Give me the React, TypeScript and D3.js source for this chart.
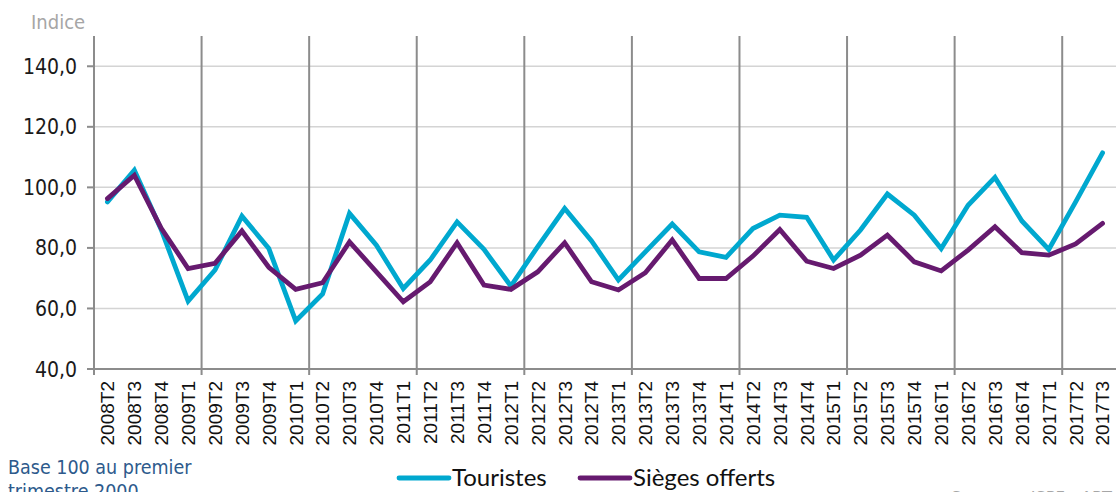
import * as d3 from 'd3';
import { useEffect, useRef } from 'react';

const quarters = [
  '2008T2', '2008T3', '2008T4',
  '2009T1', '2009T2', '2009T3', '2009T4',
  '2010T1', '2010T2', '2010T3', '2010T4',
  '2011T1', '2011T2', '2011T3', '2011T4',
  '2012T1', '2012T2', '2012T3', '2012T4',
  '2013T1', '2013T2', '2013T3', '2013T4',
  '2014T1', '2014T2', '2014T3', '2014T4',
  '2015T1', '2015T2', '2015T3', '2015T4',
  '2016T1', '2016T2', '2016T3', '2016T4',
  '2017T1', '2017T2', '2017T3',
];

const touristes = [
  95.2, 105.7, 86.0,
  62.4, 72.7, 90.5, 79.8,
  55.9, 64.8, 91.4, 80.9,
  66.6, 76.0, 88.6, 79.5,
  67.4, 80.4, 93.0, 82.3,
  69.4, 78.7, 87.9, 78.7,
  76.9, 86.4, 90.8, 90.1,
  76.0, 85.9, 97.8, 90.8,
  79.8, 94.1, 103.3, 88.9,
  79.5, 95.2, 111.4,
];

const sieges = [
  96.3, 104.0, 86.5,
  73.2, 74.9, 85.6, 73.6,
  66.3, 68.5, 82.0, 72.1,
  62.2, 68.8, 81.7, 67.7,
  66.3, 72.1, 81.7, 68.8,
  66.1, 71.8, 82.6, 69.9,
  69.9, 77.3, 86.1, 75.6,
  73.2, 77.6, 84.2, 75.4,
  72.4, 79.3, 87.0, 78.4,
  77.6, 81.3, 88.1,
];

const yTicks = [40, 60, 80, 100, 120, 140];

const seriesList = [
  { name: 'Touristes', values: touristes, color: '#00a8cf' },
  { name: 'Sièges offerts', values: sieges, color: '#661a6f' },
];

const W = 1117;
const H = 492;

export default function App() {
  const ref = useRef<SVGSVGElement | null>(null);

  useEffect(() => {
    const svg = d3.select(ref.current);
    svg.selectAll('*').remove();

    const left = 94;
    const right = 1116;
    const top = 36;
    const bottom = 369;

    const x = d3.scaleBand().domain(quarters).range([left, right]).padding(0);
    const y = d3.scaleLinear().domain([40, 150]).range([bottom, top]);
    const cx = (i: number) => (x(quarters[i]) as number) + x.bandwidth() / 2;

    // horizontal grid
    svg
      .append('g')
      .selectAll('line')
      .data(yTicks.filter((t) => t > 40))
      .join('line')
      .attr('x1', left)
      .attr('x2', right)
      .attr('y1', (d) => y(d))
      .attr('y2', (d) => y(d))
      .attr('stroke', '#d4d4d4')
      .attr('stroke-width', 1.5);

    // vertical separators every 4 quarters
    const seps = d3.range(4, quarters.length, 4).map((i) => x(quarters[i]) as number);
    svg
      .append('g')
      .selectAll('line')
      .data(seps)
      .join('line')
      .attr('x1', (d) => d)
      .attr('x2', (d) => d)
      .attr('y1', top)
      .attr('y2', bottom + 6)
      .attr('stroke', '#8c8c8c')
      .attr('stroke-width', 2);

    // axes
    svg
      .append('line')
      .attr('x1', left)
      .attr('x2', right)
      .attr('y1', bottom)
      .attr('y2', bottom)
      .attr('stroke', '#8c8c8c')
      .attr('stroke-width', 2);
    svg
      .append('line')
      .attr('x1', left)
      .attr('x2', left)
      .attr('y1', top)
      .attr('y2', bottom + 6)
      .attr('stroke', '#8c8c8c')
      .attr('stroke-width', 2);

    const fmt = (v: number) => d3.format('.1f')(v).replace('.', ',');
    const yg = svg.append('g');
    yg.selectAll('line')
      .data(yTicks)
      .join('line')
      .attr('x1', left - 7)
      .attr('x2', left)
      .attr('y1', (d) => y(d))
      .attr('y2', (d) => y(d))
      .attr('stroke', '#8c8c8c')
      .attr('stroke-width', 2);
    yg.selectAll('text')
      .data(yTicks)
      .join('text')
      .attr('x', 77)
      .attr('y', (d) => y(d))
      .attr('dy', '0.36em')
      .attr('text-anchor', 'end')
      .attr('font-family', '"DejaVu Sans Condensed", "DejaVu Sans", sans-serif')
      .attr('font-size', 21)
      .attr('fill', '#1a1a1a')
      .text(fmt);

    // x labels
    svg
      .append('g')
      .selectAll('text')
      .data(quarters)
      .join('text')
      .attr('transform', (d) => `translate(${(x(d) as number) + x.bandwidth() / 2},${bottom + 12}) rotate(-90)`)
      .attr('dy', '0.36em')
      .attr('text-anchor', 'end')
      .attr('font-family', '"Liberation Sans", Arial, sans-serif')
      .attr('font-size', 19)
      .attr('fill', '#111')
      .text((d) => d);

    // lines
    const line = d3
      .line<number>()
      .x((_, i) => cx(i))
      .y((d) => y(d))
      .curve(d3.curveLinear);
    svg
      .append('g')
      .selectAll('path')
      .data(seriesList)
      .join('path')
      .attr('d', (s) => line(s.values))
      .attr('fill', 'none')
      .attr('stroke', (s) => s.color)
      .attr('stroke-width', 4.8)
      .attr('stroke-linejoin', 'miter')
      .attr('stroke-linecap', 'round');

    // axis title
    svg
      .append('text')
      .attr('x', 31)
      .attr('y', 29)
      .attr('font-family', '"DejaVu Sans Condensed", "DejaVu Sans", sans-serif')
      .attr('font-size', 20)
      .attr('fill', '#a6a6a6')
      .text('Indice');

    // legend
    const legendPos = [397, 578];
    const lg = svg
      .append('g')
      .selectAll('g')
      .data(seriesList)
      .join('g')
      .attr('transform', (_, i) => `translate(${legendPos[i]},478)`);
    lg.append('line')
      .attr('x1', 2)
      .attr('x2', 52)
      .attr('stroke', (s) => s.color)
      .attr('stroke-width', 4.8)
      .attr('stroke-linecap', 'round');
    lg.append('text')
      .attr('x', 55)
      .attr('dy', '0.35em')
      .attr('font-family', 'Lato, "Open Sans", sans-serif')
      .attr('font-size', 24)
      .attr('fill', '#111')
      .text((s) => s.name);

    // notes
    const note = svg
      .append('text')
      .attr('font-family', '"DejaVu Sans Condensed", "DejaVu Sans", sans-serif')
      .attr('font-size', 19.5)
      .attr('fill', '#2d5a8c');
    note.append('tspan').attr('x', 8).attr('y', 474).text('Base 100 au premier');
    note.append('tspan').attr('x', 8).attr('y', 498).text('trimestre 2000');

    svg
      .append('text')
      .attr('x', 951)
      .attr('y', 504)
      .attr('font-family', '"DejaVu Sans Condensed", "DejaVu Sans", sans-serif')
      .attr('font-size', 18)
      .attr('fill', '#a6a6a6')
      .text('Sources : ISPF - ART');
  }, []);

  return (
    <svg
      ref={ref}
      width={W}
      height={H}
      style={{ position: 'absolute', left: 0, top: 0, background: '#fff' }}
    />
  );
}
